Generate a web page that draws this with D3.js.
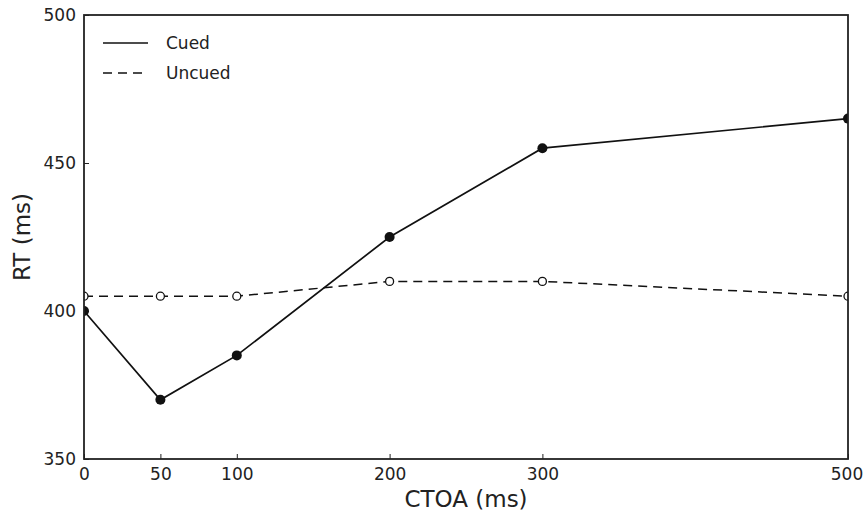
<!DOCTYPE html>
<html lang="en">
<head>
    <meta charset="UTF-8">
    <script src="https://cdnjs.cloudflare.com/ajax/libs/d3/7.6.1/d3.min.js"></script>
    <style>
        body { margin: 0; background: #fff; }
        text { font-family: "DejaVu Sans", sans-serif; fill: #222; }
    </style>
</head>
<body>
    <div id="container"></div>
    <script>
        // chart data
        const ctoa = [0, 50, 100, 200, 300, 500]
        const cuedRT = [400, 370, 385, 425, 455, 465]
        const uncuedRT = [405, 405, 405, 410, 410, 405]
        const xTicks = [0, 50, 100, 200, 300, 500]
        const yTicks = [350, 400, 450, 500]

        const width = 863, height = 516
        const plot = { left: 84, right: 848, top: 15, bottom: 459 }

        const x = d3.scaleLinear().domain([0, 500]).range([plot.left, plot.right])
        const y = d3.scaleLinear().domain([350, 500]).range([plot.bottom, plot.top])

        const svg = d3.select("#container").append("svg")
            .attr("width", width)
            .attr("height", height)

        svg.append("defs").append("clipPath").attr("id", "clip")
            .append("rect")
            .attr("x", plot.left).attr("y", plot.top)
            .attr("width", plot.right - plot.left)
            .attr("height", plot.bottom - plot.top)

        // axes (ticks point inward)
        const xAxis = svg.append("g")
            .attr("transform", `translate(0,${plot.bottom})`)
            .call(d3.axisBottom(x).tickValues(xTicks).tickSizeInner(-5).tickSizeOuter(0).tickPadding(9))
        const yAxis = svg.append("g")
            .attr("transform", `translate(${plot.left},0)`)
            .call(d3.axisLeft(y).tickValues(yTicks).tickSizeInner(-5).tickSizeOuter(0).tickPadding(8))
        for (const g of [xAxis, yAxis]) {
            g.select(".domain").remove()
            g.selectAll("line").attr("stroke", "#222").attr("stroke-width", 1)
            g.selectAll("text").style("font-size", "17px").attr("fill", "#222")
        }
        yAxis.selectAll(".tick text").attr("dy", "0.35em")
        // last label sits on the window edge, nudge it in a bit
        xAxis.selectAll(".tick text").filter(d => d === 500).attr("dx", -1.5)

        // data lines
        const line = d3.line().x((d, i) => x(ctoa[i])).y(d => y(d))
        const series = svg.append("g").attr("clip-path", "url(#clip)")

        series.append("path")
            .datum(uncuedRT)
            .attr("d", line)
            .attr("fill", "none")
            .attr("stroke", "#111")
            .attr("stroke-width", 1.5)
            .attr("stroke-dasharray", "9,6")
        series.append("path")
            .datum(cuedRT)
            .attr("d", line)
            .attr("fill", "none")
            .attr("stroke", "#111")
            .attr("stroke-width", 1.7)

        series.selectAll(".open")
            .data(uncuedRT)
            .enter().append("circle")
            .attr("cx", (d, i) => x(ctoa[i]))
            .attr("cy", d => y(d))
            .attr("r", 4)
            .attr("fill", "#fff")
            .attr("stroke", "#111")
            .attr("stroke-width", 1.3)
        series.selectAll(".filled")
            .data(cuedRT)
            .enter().append("circle")
            .attr("cx", (d, i) => x(ctoa[i]))
            .attr("cy", d => y(d))
            .attr("r", 5)
            .attr("fill", "#111")

        // frame
        svg.append("rect")
            .attr("x", plot.left).attr("y", plot.top)
            .attr("width", plot.right - plot.left)
            .attr("height", plot.bottom - plot.top)
            .attr("fill", "none")
            .attr("stroke", "#222")
            .attr("stroke-width", 1.8)

        // legend
        const legend = svg.append("g")
        const items = [{ label: "Cued", dash: null }, { label: "Uncued", dash: "9,6" }]
        items.forEach((it, i) => {
            const ly = 43 + i * 30
            legend.append("line")
                .attr("x1", 103).attr("x2", 148)
                .attr("y1", ly).attr("y2", ly)
                .attr("stroke", "#111")
                .attr("stroke-width", 1.7)
                .attr("stroke-dasharray", it.dash)
            legend.append("text")
                .attr("x", 166).attr("y", ly)
                .attr("dy", "0.35em")
                .style("font-size", "17px")
                .text(it.label)
        })

        // axis titles
        svg.append("text")
            .attr("x", (plot.left + plot.right) / 2)
            .attr("y", 507)
            .attr("text-anchor", "middle")
            .style("font-size", "23px")
            .text("CTOA (ms)")
        svg.append("text")
            .attr("transform", `translate(30,${(plot.top + plot.bottom) / 2}) rotate(-90)`)
            .attr("text-anchor", "middle")
            .style("font-size", "23px")
            .text("RT (ms)")
    </script>
</body>
</html>
